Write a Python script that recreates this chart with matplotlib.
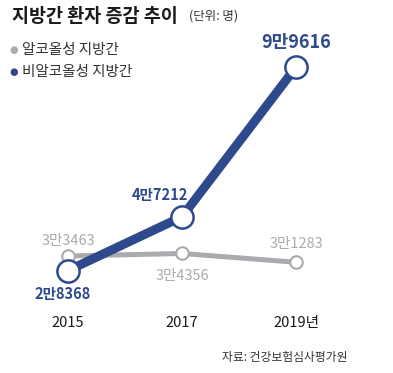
import matplotlib
matplotlib.use("Agg")
from matplotlib import pyplot as plt

plt.rcParams['font.family'] = ['Noto Sans CJK KR', 'DejaVu Sans']

years = ['2015', '2017', '2019년']
alcohol = [33463, 34356, 31283]
non_alcohol = [28368, 47212, 99616]
alcohol_labels = ['3만3463', '3만4356', '3만1283']
non_alcohol_labels = ['2만8368', '4만7212', '9만9616']

BLUE = '#2f4a8c'
GRAY = '#a9abaf'

fig = plt.figure(figsize=(3.93, 3.73), dpi=100)
ax = fig.add_axes([0, 0, 1, 1])
x = list(range(len(years)))

ax.plot(x, alcohol, color=GRAY, lw=3.6, marker='o', ms=9, mfc='white',
        mec=GRAY, mew=1.5, solid_capstyle='round', zorder=2)
ax.plot(x, non_alcohol, color=BLUE, lw=6.5, marker='o', ms=16, mfc='white',
        mec=BLUE, mew=1.8, solid_capstyle='round', zorder=3)

ax.set_xlim(-0.596, 2.851)
ax.set_ylim(-7500, 123130)
ax.axis('off')

# value labels (offsets in points)
gray_off = [(0, 11), (0, -16), (0, 13)]
for xi, v, lab, off in zip(x, alcohol, alcohol_labels, gray_off):
    ax.annotate(lab, (xi, v), xytext=off, textcoords='offset points',
                ha='center', va='center', color=GRAY, fontsize=10.5)
blue_off = [(-4, -17), (-16, 16), (0, 18)]
blue_size = [10.5, 10.5, 13]
for xi, v, lab, off, fs in zip(x, non_alcohol, non_alcohol_labels, blue_off, blue_size):
    ax.annotate(lab, (xi, v), xytext=off, textcoords='offset points',
                ha='center', va='center', color=BLUE, fontsize=fs, fontweight='bold')

# year labels
for xi, yr in zip(x, years):
    ax.text(xi, 1 - 323 / 373, yr, transform=ax.get_xaxis_transform(), ha='center', va='center',
            fontsize=10.5, color='#1a1a1a')

# title and legend
fig.text(12 / 393, 1 - 16 / 373, '지방간 환자 증감 추이', fontsize=13.3, fontweight='bold',
         ha='left', va='center', color='#1a1a1a')
fig.text(189 / 393, 1 - 16 / 373, '(단위: 명)', fontsize=9, ha='left', va='center', color='#333333')

fig.text(14 / 393, 1 - 50 / 373, '●', fontsize=7, color=GRAY, ha='center', va='center',
         family=['DejaVu Sans'])
fig.text(22 / 393, 1 - 50 / 373, '알코올성 지방간', fontsize=10.5, ha='left', va='center', color='#333333')
fig.text(14 / 393, 1 - 72 / 373, '●', fontsize=7, color=BLUE, ha='center', va='center',
         family=['DejaVu Sans'])
fig.text(22 / 393, 1 - 72 / 373, '비알코올성 지방간', fontsize=10.5, ha='left', va='center', color='#333333')

fig.text(347 / 393, 1 - 357 / 373, '자료: 건강보험심사평가원', fontsize=8.5, ha='right', va='center',
         color='#333333')

fig.savefig('out.png', dpi=100, facecolor='white')
